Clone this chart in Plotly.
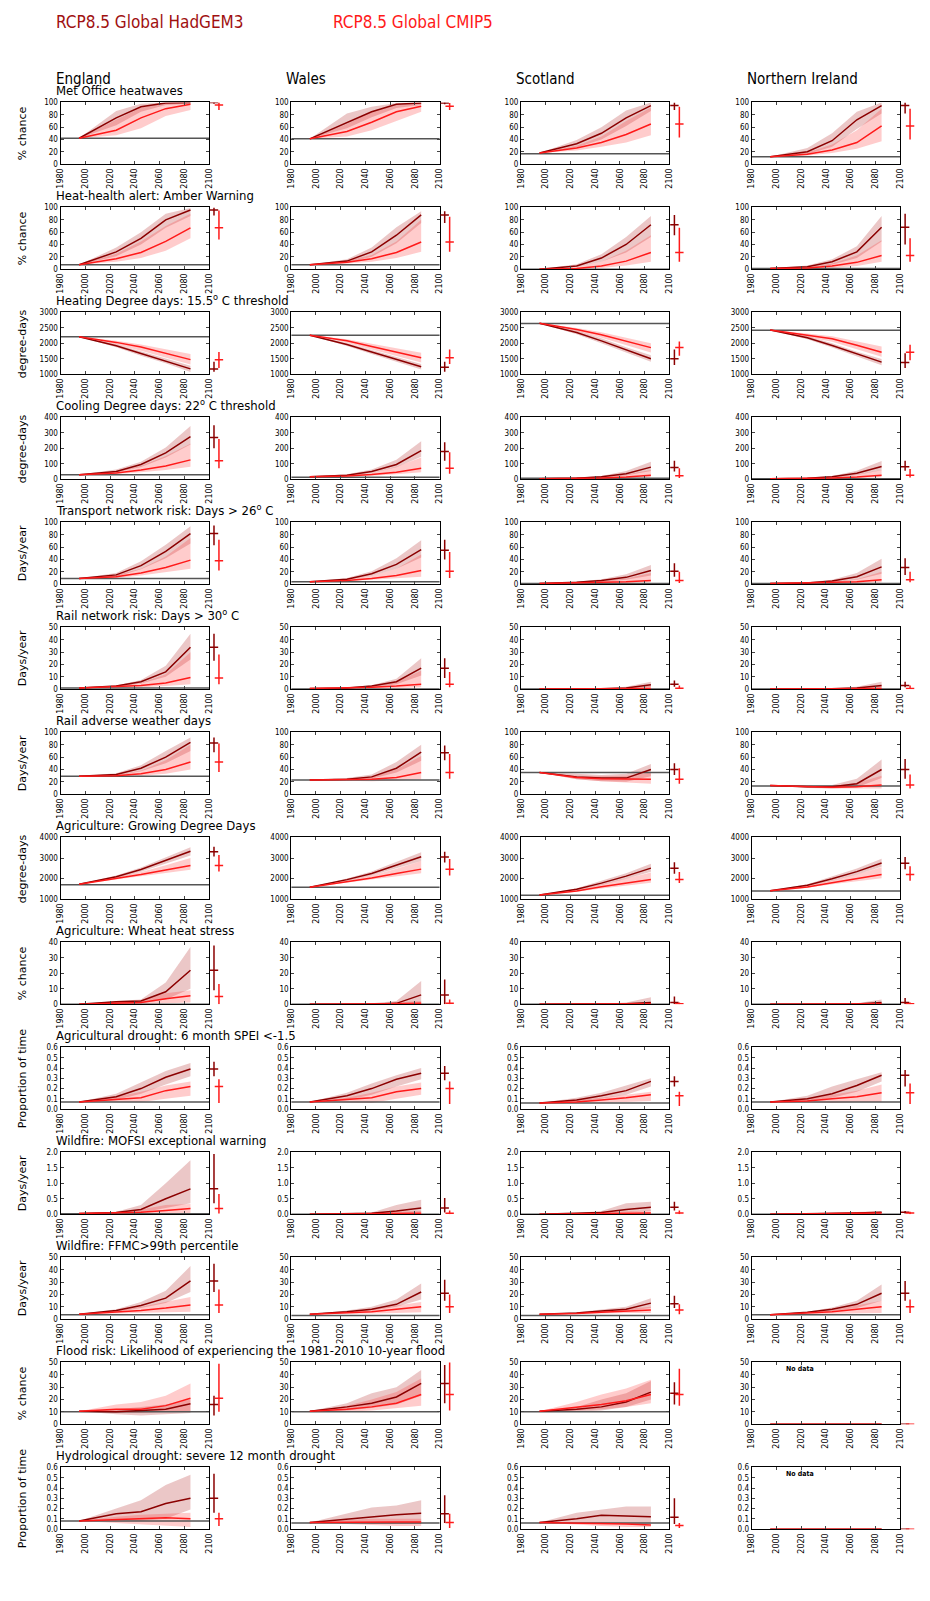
import plotly.graph_objects as go

W, H = 930, 1601
OFF = 8  # page body margin
FW, FH = W - 2 * OFF, H - 2 * OFF

REGIONS = ["England", "Wales", "Scotland", "Northern Ireland"]
TITLES = [
    "Met Office heatwaves",
    "Heat-health alert: Amber Warning",
    "Heating Degree days: 15.5<sup>o</sup> C threshold",
    "Cooling Degree days: 22<sup>o</sup> C threshold",
    "Transport network risk: Days > 26<sup>o</sup> C",
    "Rail network risk: Days > 30<sup>o</sup> C",
    "Rail adverse weather days",
    "Agriculture: Growing Degree Days",
    "Agriculture: Wheat heat stress",
    "Agricultural drought: 6 month SPEI <-1.5",
    "Wildfire: MOFSI exceptional warning",
    "Wildfire: FFMC>99th percentile",
    "Flood risk: Likelihood of experiencing the 1981-2010 10-year flood",
    "Hydrological drought: severe 12 month drought",
]
YLABELS = ["% chance", "% chance", "degree-days", "degree-days", "Days/year", "Days/year",
           "Days/year", "degree-days", "% chance", "Proportion of time", "Days/year",
           "Days/year", "% chance", "Proportion of time"]
YRANGES = [[0, 100], [0, 100], [1000, 3000], [0, 400], [0, 100], [0, 50], [0, 100],
           [1000, 4000], [0, 40], [0, 0.6], [0, 2.0], [0, 50], [0, 50], [0, 0.6]]
YDTICK = [20, 20, 500, 100, 20, 10, 20, 1000, 10, 0.1, 0.5, 10, 10, 0.1]
YFMT = ["", "", "", "", "", "", "", "", "", ".1f", ".1f", "", "", ".1f"]
NO_DATA = [(12, 3), (13, 3)]

YEARS = [1995, 2025, 2045, 2065, 2085]
X_TICKS = [1980, 2000, 2020, 2040, 2060, 2080, 2100]

# value in 1995 (shared start) and observed baseline
START = [
    [42, 41, 18, 12], [7, 7, 0, 1], [2210, 2260, 2650, 2430], [28, 15, 3, 3],
    [9, 4, 1, 1], [1, 0.5, 0.1, 0.1], [29, 23, 35, 14], [1720, 1580, 1200, 1410],
    [0, 0, 0, 0], [0.07, 0.07, 0.06, 0.07], [0.02, 0, 0, 0], [4, 4, 4, 3.5],
    [10.5, 10.5, 10.5, 0], [0.08, 0.065, 0.065, 0],
]
BASE = [
    [42, 41, 17, 12], [7, 7, 0, 1], [2210, 2260, 2640, 2420], [28, 12, 5, 2],
    [9, 4, 1, 1], [1, 0.2, 0.1, 0.1], [29, 23, 35, 13], [1700, 1580, 1190, 1400],
    [0, 0, 0, 0], [0.07, 0.07, 0.06, 0.07], [0.01, 0, 0, 0], [3.5, 3, 3, 3.5],
    [10, 10, 10, None], [0.08, 0.06, 0.06, None],
]

# HadGEM3 median / 10th / 90th at 2025, 2045, 2065, 2085
HAD_MID = [
    [[75, 93, 99, 100], [68, 85, 97, 99], [33, 50, 75, 95], [20, 38, 72, 95]],
    [[28, 50, 80, 96], [13, 28, 55, 88], [5, 18, 40, 72], [4, 12, 28, 68]],
    [[1920, 1670, 1430, 1170], [1960, 1720, 1480, 1240], [2350, 2080, 1780, 1500], [2180, 1930, 1650, 1390]],
    [[50, 95, 170, 275], [25, 50, 95, 185], [6, 15, 35, 78], [6, 15, 38, 82]],
    [[15, 30, 53, 82], [8, 17, 32, 56], [3, 6, 11, 22], [2, 5, 12, 28]],
    [[2.5, 6, 14, 34], [1, 2.5, 6, 17], [0.2, 0.4, 1, 3.5], [0.2, 0.4, 1, 3]],
    [[32, 42, 60, 84], [24, 28, 42, 68], [28, 26, 26, 40], [12, 12, 17, 40]],
    [[2090, 2440, 2870, 3330], [1950, 2250, 2650, 3060], [1480, 1780, 2120, 2510], [1680, 1990, 2340, 2760]],
    [[1.5, 2, 8, 22], [0, 0, 0.5, 6], [0, 0, 0.3, 1], [0, 0, 0.1, 1]],
    [[0.12, 0.2, 0.31, 0.39], [0.13, 0.2, 0.29, 0.35], [0.09, 0.13, 0.18, 0.27], [0.1, 0.15, 0.23, 0.33]],
    [[0.05, 0.15, 0.5, 0.82], [0.01, 0.03, 0.1, 0.2], [0.02, 0.05, 0.15, 0.22], [0.01, 0.02, 0.04, 0.06]],
    [[7, 11, 17, 31], [6, 8, 12, 22], [5, 6.5, 8, 13], [5.5, 8, 12, 21]],
    [[10, 11, 12, 16.5], [14, 17, 22, 33], [12, 14, 18, 26], [0, 0, 0, 0]],
    [[0.15, 0.17, 0.25, 0.3], [0.1, 0.12, 0.14, 0.155], [0.1, 0.135, 0.13, 0.12], [0, 0, 0, 0]],
]
HAD_LO = [
    [[63, 85, 96, 98], [58, 76, 91, 96], [27, 40, 62, 86], [16, 28, 57, 82]],
    [[21, 40, 67, 86], [10, 20, 42, 75], [3, 12, 27, 52], [2, 7, 18, 45]],
    [[1870, 1600, 1350, 1070], [1910, 1650, 1400, 1150], [2290, 2000, 1690, 1400], [2130, 1860, 1570, 1290]],
    [[44, 78, 140, 225], [21, 40, 77, 145], [5, 10, 23, 52], [5, 11, 26, 57]],
    [[12, 24, 42, 66], [7, 13, 25, 43], [2, 4, 7, 14], [2, 3, 7, 17]],
    [[2, 4.5, 10, 24], [0.7, 1.8, 4, 11], [0.1, 0.2, 0.5, 1.8], [0.1, 0.2, 0.4, 1.4]],
    [[30, 37, 50, 70], [22, 25, 35, 54], [24, 21, 20, 29], [10, 9, 11, 26]],
    [[2030, 2330, 2720, 3120], [1890, 2150, 2500, 2860], [1430, 1690, 1990, 2330], [1630, 1890, 2200, 2580]],
    [[0.5, 0.5, 3, 10], [0, 0, 0, 0.5], [0, 0, 0, 0], [0, 0, 0, 0]],
    [[0.09, 0.15, 0.24, 0.32], [0.09, 0.14, 0.22, 0.29], [0.07, 0.1, 0.14, 0.22], [0.08, 0.11, 0.17, 0.27]],
    [[0.03, 0.05, 0.2, 0.35], [0, 0.01, 0.02, 0.05], [0.01, 0.02, 0.06, 0.1], [0, 0.01, 0.02, 0.03]],
    [[6, 9, 13, 22], [5, 7, 10, 16], [4.5, 5.5, 6.5, 9], [5, 6.5, 9, 15]],
    [[8, 7, 8, 9], [11, 13, 16, 23], [10, 11, 14, 20], [0, 0, 0, 0]],
    [[0.09, 0.08, 0.1, 0.19], [0.07, 0.05, 0.05, 0.05], [0.07, 0.06, 0.05, 0.05], [0, 0, 0, 0]],
]
HAD_HI = [
    [[86, 98, 100, 100], [82, 93, 99, 100], [39, 60, 87, 100], [26, 50, 85, 100]],
    [[35, 60, 90, 99], [16, 35, 68, 94], [8, 24, 52, 86], [6, 16, 37, 86]],
    [[1970, 1740, 1510, 1270], [2010, 1790, 1560, 1330], [2410, 2160, 1870, 1610], [2230, 2000, 1730, 1490]],
    [[62, 112, 205, 345], [31, 62, 125, 245], [9, 21, 52, 112], [9, 21, 54, 118]],
    [[18, 37, 64, 94], [10, 21, 42, 71], [4, 8, 16, 31], [3, 7, 18, 41]],
    [[3, 7.5, 19, 45], [1.3, 3.2, 8.5, 25], [0.3, 0.7, 2, 6], [0.3, 0.7, 2, 6]],
    [[34, 47, 70, 92], [26, 32, 52, 80], [33, 31, 33, 49], [14, 15, 25, 56]],
    [[2150, 2540, 3020, 3520], [2010, 2350, 2800, 3280], [1530, 1880, 2260, 2720], [1730, 2100, 2490, 2970]],
    [[2, 3, 14, 37], [0.2, 0.5, 2, 15], [0.1, 0.3, 1, 4.5], [0.1, 0.2, 0.5, 3]],
    [[0.15, 0.26, 0.37, 0.45], [0.16, 0.25, 0.33, 0.4], [0.11, 0.16, 0.23, 0.3], [0.13, 0.22, 0.29, 0.36]],
    [[0.08, 0.3, 1.0, 1.75], [0.03, 0.05, 0.3, 0.47], [0.04, 0.1, 0.35, 0.4], [0.02, 0.04, 0.07, 0.09]],
    [[8, 14, 23, 43], [7, 10, 16, 29], [5.5, 7.5, 10, 17], [6, 9.5, 15, 28]],
    [[12, 14, 16, 20], [17, 25, 30, 44], [14, 20, 25, 35], [0, 0, 0, 0]],
    [[0.2, 0.28, 0.43, 0.53], [0.15, 0.21, 0.23, 0.28], [0.16, 0.19, 0.22, 0.22], [0, 0, 0, 0]],
]

# CMIP5 median / 10th / 90th at 2025, 2045, 2065, 2085
CM_MID = [
    [[55, 75, 90, 97], [53, 68, 85, 94], [26, 35, 48, 65], [16, 23, 35, 62]],
    [[17, 27, 45, 67], [11, 17, 27, 44], [1, 5, 13, 27], [2, 5, 11, 22]],
    [[2030, 1880, 1680, 1470], [2080, 1900, 1720, 1530], [2450, 2280, 2080, 1860], [2270, 2150, 1940, 1710]],
    [[40, 60, 85, 125], [20, 30, 45, 70], [4, 8, 14, 25], [4, 8, 14, 25]],
    [[12, 18, 27, 39], [6, 9, 14, 22], [2, 3, 4, 6], [2, 3, 4, 7]],
    [[2, 3, 5, 9.5], [0.8, 1.5, 2.5, 4], [0.1, 0.2, 0.3, 0.6], [0.1, 0.2, 0.3, 0.6]],
    [[30, 33, 40, 52], [23, 24, 27, 35], [27, 25, 24, 24], [12, 11, 12, 15]],
    [[1990, 2200, 2420, 2640], [1850, 2030, 2250, 2460], [1400, 1600, 1780, 1960], [1590, 1800, 1990, 2200]],
    [[0.5, 1, 3.5, 5.5], [0, 0, 0.3, 0.6], [0, 0, 0.1, 0.2], [0, 0, 0, 0.2]],
    [[0.09, 0.11, 0.18, 0.22], [0.09, 0.11, 0.17, 0.2], [0.07, 0.09, 0.11, 0.14], [0.08, 0.1, 0.12, 0.16]],
    [[0.03, 0.06, 0.12, 0.18], [0, 0.01, 0.02, 0.03], [0.01, 0.02, 0.03, 0.04], [0.01, 0.02, 0.03, 0.04]],
    [[5.5, 7, 9, 11.5], [5, 6, 8, 10], [4.5, 5.5, 6.5, 7.5], [5, 6, 8, 10]],
    [[12, 12, 15, 21], [12, 14, 17, 24], [14, 16, 19, 24], [0, 0, 0, 0]],
    [[0.09, 0.1, 0.11, 0.1], [0.07, 0.07, 0.07, 0.07], [0.06, 0.055, 0.05, 0.04], [0, 0, 0, 0]],
]
CM_LO = [
    [[47, 58, 78, 88], [45, 55, 70, 85], [22, 28, 35, 47], [14, 18, 25, 37]],
    [[12, 18, 30, 50], [9, 12, 18, 28], [0, 2, 6, 12], [1, 2, 5, 12]],
    [[1960, 1760, 1530, 1310], [2020, 1800, 1590, 1380], [2390, 2180, 1950, 1700], [2210, 2050, 1810, 1560]],
    [[33, 45, 60, 80], [17, 22, 32, 45], [3, 5, 8, 12], [3, 5, 8, 12]],
    [[10, 14, 19, 25], [5, 7, 9, 12], [1, 2, 2, 3], [1, 2, 2, 3]],
    [[1, 1.5, 2.5, 4], [0.5, 0.8, 1, 1.5], [0.1, 0.1, 0.1, 0.2], [0.1, 0.1, 0.1, 0.2]],
    [[29, 30, 33, 40], [22, 21, 22, 24], [24, 21, 19, 17], [11, 9, 9, 9]],
    [[1940, 2100, 2270, 2430], [1800, 1940, 2110, 2260], [1360, 1520, 1660, 1800], [1550, 1720, 1870, 2020]],
    [[0, 0, 0.5, 1], [0, 0, 0, 0], [0, 0, 0, 0], [0, 0, 0, 0]],
    [[0.07, 0.07, 0.1, 0.13], [0.06, 0.06, 0.1, 0.14], [0.06, 0.06, 0.07, 0.08], [0.06, 0.06, 0.07, 0.07]],
    [[0.01, 0.02, 0.03, 0.04], [0, 0, 0, 0], [0, 0, 0, 0], [0, 0, 0, 0]],
    [[4.5, 5, 5.5, 6], [4, 4.5, 5, 5.5], [4, 4.5, 5, 5], [4, 4.5, 5, 5]],
    [[9, 9, 10, 10], [10, 11, 13, 15], [11, 12, 14, 17], [0, 0, 0, 0]],
    [[0.06, 0.04, 0.03, 0.02], [0.05, 0.04, 0.03, 0.03], [0.04, 0.03, 0.02, 0.02], [0, 0, 0, 0]],
]
CM_HI = [
    [[72, 92, 99, 100], [65, 85, 96, 99], [30, 45, 70, 92], [19, 32, 55, 90]],
    [[25, 45, 70, 90], [14, 23, 45, 80], [3, 12, 30, 55], [3, 9, 22, 47]],
    [[2080, 1960, 1800, 1650], [2130, 1980, 1830, 1690], [2500, 2360, 2180, 2000], [2320, 2230, 2060, 1900]],
    [[50, 85, 150, 230], [25, 40, 80, 140], [6, 14, 30, 60], [6, 14, 30, 60]],
    [[15, 25, 45, 75], [8, 13, 25, 48], [3, 5, 9, 18], [3, 4, 8, 20]],
    [[3, 5, 12, 30], [1.2, 2.5, 6, 15], [0.2, 0.4, 1, 3], [0.2, 0.4, 1, 3]],
    [[31, 38, 55, 80], [24, 28, 40, 62], [30, 29, 30, 35], [13, 13, 18, 30]],
    [[2060, 2320, 2650, 3000], [1920, 2150, 2480, 2850], [1460, 1710, 1990, 2300], [1650, 1910, 2210, 2550]],
    [[1.5, 2.5, 7, 9], [0.2, 0.3, 1, 2], [0.1, 0.1, 0.3, 1], [0.1, 0.1, 0.2, 0.8]],
    [[0.12, 0.17, 0.23, 0.27], [0.11, 0.16, 0.22, 0.26], [0.09, 0.11, 0.14, 0.17], [0.1, 0.14, 0.18, 0.24]],
    [[0.06, 0.15, 0.3, 0.33], [0.02, 0.04, 0.08, 0.1], [0.03, 0.06, 0.1, 0.12], [0.02, 0.03, 0.06, 0.08]],
    [[7, 10, 14, 18], [6, 8, 11, 14], [5, 6.5, 8, 10], [5.5, 7.5, 11, 15]],
    [[16, 18, 23, 33], [15, 20, 26, 37], [18, 24, 29, 36], [0, 0, 0, 0]],
    [[0.12, 0.14, 0.15, 0.16], [0.09, 0.1, 0.1, 0.1], [0.07, 0.07, 0.06, 0.05], [0, 0, 0, 0]],
]

# 2100 summary bars: [low, median, high]
BAR_HAD = [
    [[98, 100, 100], [97, 99, 100], [88, 95, 100], [82, 95, 100]],
    [[87, 96, 100], [75, 88, 94], [55, 72, 88], [40, 68, 90]],
    [[1080, 1170, 1400], [1080, 1220, 1400], [1300, 1500, 1800], [1200, 1380, 1680]],
    [[200, 270, 350], [120, 180, 240], [50, 75, 120], [55, 80, 120]],
    [[63, 82, 95], [40, 55, 72], [12, 21, 34], [15, 27, 42]],
    [[23, 34, 45], [9, 17, 25], [2, 4, 7], [1.5, 3, 6]],
    [[68, 83, 92], [55, 67, 79], [31, 40, 50], [25, 40, 57]],
    [[3080, 3300, 3550], [2780, 3050, 3300], [2240, 2500, 2800], [2450, 2750, 3050]],
    [[9, 22, 38], [0, 6, 16], [0, 1, 5], [0, 1, 4]],
    [[0.32, 0.39, 0.46], [0.28, 0.35, 0.42], [0.22, 0.27, 0.32], [0.22, 0.33, 0.38]],
    [[0.35, 0.82, 1.95], [0.05, 0.2, 0.52], [0.12, 0.22, 0.4], [0.02, 0.06, 0.1]],
    [[22, 31, 45], [15, 21, 32], [9, 12.5, 19], [15, 21, 31]],
    [[7, 16, 23], [17, 33, 48], [16, 25, 34], [0, 0, 0]],
    [[0.16, 0.3, 0.54], [0.06, 0.15, 0.33], [0.05, 0.115, 0.3], [0, 0, 0]],
]
BAR_CM = [
    [[88, 96, 100], [88, 94, 99], [43, 65, 93], [40, 62, 90]],
    [[48, 67, 95], [28, 44, 85], [12, 27, 67], [12, 22, 50]],
    [[1200, 1470, 1720], [1330, 1530, 1800], [1600, 1860, 2060], [1450, 1710, 1950]],
    [[70, 120, 260], [35, 70, 175], [8, 22, 70], [10, 25, 65]],
    [[22, 38, 72], [10, 21, 52], [2, 6, 20], [3, 7, 20]],
    [[4, 9, 28], [1.5, 4, 14], [0.2, 0.8, 3], [0.2, 0.6, 3]],
    [[36, 52, 82], [25, 35, 65], [17, 24, 42], [9, 15, 32]],
    [[2350, 2640, 3150], [2150, 2460, 2950], [1780, 1960, 2320], [1900, 2200, 2600]],
    [[0, 5, 13], [0, 0.5, 3], [0, 0.2, 1], [0, 0.2, 1]],
    [[0.06, 0.22, 0.29], [0.05, 0.2, 0.27], [0.03, 0.13, 0.17], [0.05, 0.16, 0.25]],
    [[0.02, 0.18, 0.65], [0, 0.03, 0.12], [0, 0.04, 0.12], [0, 0.04, 0.08]],
    [[5, 11.5, 24], [5, 10, 20], [4, 7.5, 12], [5, 10, 16]],
    [[10, 21, 49], [11, 24, 58], [15, 24, 45], [0, 0, 0]],
    [[0.03, 0.1, 0.16], [0.01, 0.065, 0.15], [0.01, 0.035, 0.06], [0, 0, 0]],
]

HAD_COL = "#8b0000"
CM_COL = "#ff1a1a"
HAD_FILL = "rgba(190,70,70,0.3)"
CM_FILL = "rgba(255,40,40,0.24)"
FONT = "DejaVu Sans Condensed, Liberation Sans, sans-serif"

COL_LEFT = [57, 290, 522, 755]
PW, PH = 150, 62
PX_PER_YEAR = PW / 120.0


def px(x):
    return (x - OFF) / FW


def py(y):
    return 1 - (y - OFF) / FH


fig = go.Figure()
layout = {}
annotations = []

for r in range(14):
    top = 99 + r * 105.6
    ydom = [py(top + PH), py(top)]
    for c in range(4):
        k = r * 4 + c + 1
        kb = 56 + k
        sfx = "" if k == 1 else str(k)
        left = COL_LEFT[c]
        xdom = [px(left), px(left + PW)]
        bar_end = min(left + PW + 24, W - OFF)
        bdom = [px(left + PW), px(bar_end)]
        y0, y1 = YRANGES[r]
        dt = YDTICK[r]
        nt = int(round((y1 - y0) / dt))
        yticks = [round(y0 + i * dt, 3) for i in range(nt + 1)]

        layout["xaxis" + sfx] = dict(
            domain=xdom, range=[1980, 2100], anchor="y" + sfx, tickvals=X_TICKS,
            tickangle=-90, ticks="inside", ticklen=3, showline=True, mirror="ticks",
            linecolor="black", linewidth=1, showgrid=False, zeroline=False,
            tickfont=dict(size=8, family="DejaVu Sans", color="black"))
        layout["yaxis" + sfx] = dict(
            domain=ydom, range=[y0, y1], anchor="x" + sfx, tickvals=yticks,
            tickformat=YFMT[r], ticks="inside", ticklen=3, showline=True, mirror="ticks",
            linecolor="black", linewidth=1, showgrid=False, zeroline=False,
            tickfont=dict(size=8, family=FONT, color="black"))
        layout["xaxis" + str(kb)] = dict(
            domain=bdom, range=[2100, 2100 + (bar_end - left - PW) / PX_PER_YEAR],
            anchor="y" + sfx, visible=False)

        xa, ya = "x" + sfx, "y" + sfx
        s = START[r][c]
        nodata = (r, c) in NO_DATA
        xs = YEARS + YEARS[::-1]
        if not nodata:
            fig.add_trace(go.Scatter(
                x=xs, y=[s] + HAD_LO[r][c] + ([s] + HAD_HI[r][c])[::-1], fill="toself",
                fillcolor=HAD_FILL, line=dict(width=0), mode="lines", hoverinfo="skip",
                xaxis=xa, yaxis=ya))
            fig.add_trace(go.Scatter(
                x=xs, y=[s] + CM_LO[r][c] + ([s] + CM_HI[r][c])[::-1], fill="toself",
                fillcolor=CM_FILL, line=dict(width=0), mode="lines", hoverinfo="skip",
                xaxis=xa, yaxis=ya))
        if BASE[r][c] is not None:
            fig.add_trace(go.Scatter(
                x=[1980, 2100], y=[BASE[r][c]] * 2, mode="lines",
                line=dict(color="#555555", width=1.5), xaxis=xa, yaxis=ya))
        fig.add_trace(go.Scatter(
            x=YEARS, y=[s] + HAD_MID[r][c], mode="lines",
            line=dict(color=HAD_COL, width=1.5), xaxis=xa, yaxis=ya))
        fig.add_trace(go.Scatter(
            x=YEARS, y=[s] + CM_MID[r][c], mode="lines",
            line=dict(color=CM_COL, width=1.5), xaxis=xa, yaxis=ya))

        for xb, bar, col in ((2104, BAR_HAD[r][c], HAD_COL), (2108, BAR_CM[r][c], CM_COL)):
            lo, mid, hi = bar
            fig.add_trace(go.Scatter(
                x=[xb], y=[mid], mode="markers",
                marker=dict(symbol="line-ew", size=6, line=dict(width=1.5, color=col)),
                error_y=dict(type="data", symmetric=False, array=[hi - mid],
                             arrayminus=[mid - lo], width=0, thickness=1.5, color=col),
                xaxis="x" + str(kb), yaxis=ya))

        if nodata:
            annotations.append(dict(
                text="<b>No data</b>", x=2006, y=y1 - (y1 - y0) * 0.1, xref=xa, yref=ya,
                xanchor="left", yanchor="middle", showarrow=False,
                font=dict(size=7, family=FONT, color="black")))

    annotations.append(dict(
        text=TITLES[r], x=px(50), y=py(top - 2), xref="paper", yref="paper",
        xanchor="left", yanchor="bottom", showarrow=False,
        font=dict(size=13, family=FONT, color="black")))
    annotations.append(dict(
        text=YLABELS[r], x=px(18), y=py(top + PH / 2), xref="paper", yref="paper",
        xanchor="center", yanchor="middle", textangle=-90, showarrow=False,
        font=dict(size=11, family="DejaVu Sans", color="black")))

for c, name in enumerate(REGIONS):
    annotations.append(dict(
        text=name, x=px(COL_LEFT[c] - 7), y=py(75), xref="paper", yref="paper",
        xanchor="left", yanchor="middle", showarrow=False,
        font=dict(size=15, family=FONT, color="black")))

annotations.append(dict(
    text="RCP8.5 Global HadGEM3", x=px(50), y=py(18), xref="paper", yref="paper",
    xanchor="left", yanchor="middle", showarrow=False,
    font=dict(size=17, family=FONT, color="#a01010")))
annotations.append(dict(
    text="RCP8.5 Global CMIP5", x=px(330), y=py(18), xref="paper", yref="paper",
    xanchor="left", yanchor="middle", showarrow=False,
    font=dict(size=17, family=FONT, color="#ff1a1a")))

fig.update_layout(
    width=FW, height=FH, margin=dict(l=0, r=0, t=0, b=0),
    paper_bgcolor="white", plot_bgcolor="white", showlegend=False,
    annotations=annotations, **layout)

fig.write_html("out.html")
